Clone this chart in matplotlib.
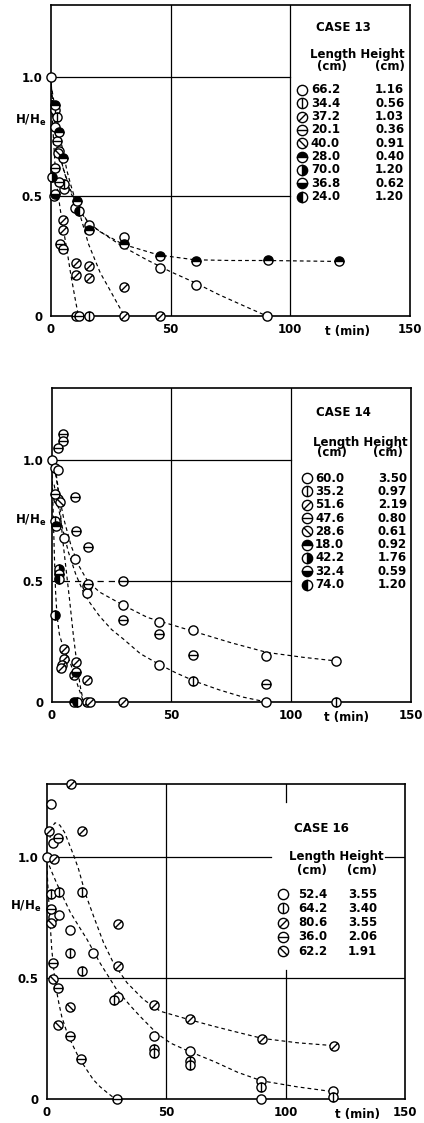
import matplotlib
matplotlib.use("Agg")
import matplotlib.pyplot as plt
from matplotlib.path import Path
import numpy as np

# ---------------- data ----------------
# CASE 13
c13_len = ["66.2", "34.4", "37.2", "20.1", "40.0", "28.0", "70.0", "36.8", "24.0"]
c13_hgt = ["1.16", "0.56", "1.03", "0.36", "0.91", "0.40", "1.20", "0.62", "1.20"]
c13_open_t = [0, 1.7, 3.2, 5.5, 10.1, 15.7, 30.7, 45.5, 60.5, 90.2]
c13_open_h = [1.0, 0.79, 0.69, 0.53, 0.45, 0.38, 0.33, 0.20, 0.13, 0.0]
c13_vl_t = [1.7, 2.4, 5.5, 15.7]
c13_vl_h = [0.86, 0.83, 0.55, 0.0]
c13_sl_t = [5.2, 5.2, 10.5, 10.5, 15.7, 15.7, 30.7, 30.7, 45.5]
c13_sl_h = [0.40, 0.36, 0.22, 0.17, 0.21, 0.16, 0.12, 0.0, 0.0]
c13_hl_t = [2.4, 1.5, 3.5, 3.8, 5.2, 10.5, 11.9]
c13_hl_h = [0.73, 0.62, 0.56, 0.30, 0.28, 0.0, 0.0]
c13_bs_t = [1.2, 3.0]
c13_bs_h = [0.50, 0.68]
c13_top_t = [1.7, 3.5, 5.2, 10.8, 15.7, 30.7, 45.5, 60.5, 90.6, 120.4]
c13_top_h = [0.88, 0.77, 0.66, 0.48, 0.36, 0.30, 0.25, 0.23, 0.234, 0.23]
c13_rt_t = [0.3]
c13_rt_h = [0.58]
c13_bt_t = [1.7]
c13_bt_h = [0.51]
c13_lf_t = [11.5]
c13_lf_h = [0.44]
# fitted dashed curves
c13_cA_t = [0, 1, 2.5, 5, 8, 11, 15, 20, 30, 45, 60, 75, 90, 105, 120.4]
c13_cA_h = [0.96, 0.86, 0.74, 0.62, 0.52, 0.46, 0.40, 0.355, 0.30, 0.255, 0.235, 0.232, 0.232, 0.23, 0.228]
c13_cB_t = [0, 1, 2.5, 5, 8, 12, 16, 21, 30, 40, 50, 60, 70, 80, 90.2]
c13_cB_h = [0.98, 0.86, 0.74, 0.62, 0.53, 0.44, 0.385, 0.35, 0.29, 0.235, 0.185, 0.14, 0.09, 0.045, 0.0]
c13_cC_t = [0, 1.5, 3, 4.8, 6.6, 8.2, 10, 12.2, 15.7, 20.6, 24, 27.3, 30.7]
c13_cC_h = [0.97, 0.88, 0.78, 0.70, 0.61, 0.55, 0.49, 0.42, 0.30, 0.18, 0.12, 0.06, 0.0]
c13_cD_t = [0, 0.8, 1.7, 2.7, 3.8, 5.2, 6.6, 8.0, 9.4, 10.5, 11.5]
c13_cD_h = [0.96, 0.78, 0.63, 0.53, 0.45, 0.36, 0.28, 0.19, 0.11, 0.05, 0.0]

# CASE 14
c14_len = ["60.0", "35.2", "51.6", "47.6", "28.6", "18.0", "42.2", "32.4", "74.0"]
c14_hgt = ["3.50", "0.97", "2.19", "0.80", "0.61", "0.92", "1.76", "0.59", "1.20"]
c14_open_t = [0, 1.4, 2.8, 5.1, 9.7, 14.8, 14.8, 29.6, 44.8, 44.8, 59, 89.6, 89.6, 118.7]
c14_open_h = [1.0, 0.97, 0.96, 0.68, 0.59, 0.48, 0.45, 0.40, 0.33, 0.155, 0.30, 0.19, 0.0, 0.17]
c14_vl_t = [2.8, 1.4, 59, 118.7]
c14_vl_h = [0.84, 0.75, 0.085, 0.0]
c14_sl_t = [5.0, 5.0, 4.5, 3.8, 10.0, 9.5, 14.7, 14.6, 16.0, 29.6]
c14_sl_h = [0.22, 0.18, 0.155, 0.14, 0.165, 0.11, 0.09, 0.0, 0.0, 0.0]
c14_hl_t = [4.6, 4.6, 2.8, 1.4, 9.7, 10.0, 15.3, 15.0, 29.6, 29.6, 44.8, 59, 89.6]
c14_hl_h = [1.11, 1.08, 1.05, 0.86, 0.85, 0.71, 0.64, 0.49, 0.50, 0.34, 0.28, 0.195, 0.076]
c14_bs_t = [3.5]
c14_bs_h = [0.83]
c14_top_t = [1.6, 9.3]
c14_top_h = [0.73, 0.0]
c14_rt_t = [3.0, 1.3]
c14_rt_h = [0.55, 0.36]
c14_bt_t = [3.0, 10.0]
c14_bt_h = [0.53, 0.125]
c14_lf_t = [3.0, 10.6]
c14_lf_h = [0.51, 0.0]
c14_cA_t = [0, 1.5, 3, 5, 8, 11, 15, 20, 30, 40, 50, 60, 75, 90, 105, 118.7]
c14_cA_h = [1.0, 0.95, 0.86, 0.76, 0.65, 0.57, 0.50, 0.455, 0.40, 0.35, 0.32, 0.29, 0.245, 0.205, 0.185, 0.17]
c14_cB_t = [1, 2.5, 4.5, 7, 10, 13, 16, 20, 25, 30, 37, 45, 52, 60, 70, 80, 89.6]
c14_cB_h = [0.90, 0.82, 0.72, 0.62, 0.53, 0.46, 0.41, 0.355, 0.30, 0.26, 0.20, 0.155, 0.12, 0.085, 0.05, 0.02, 0.0]
c14_cC_t = [1.5, 2.5, 3.5, 4.5, 6, 7.5, 9, 10.5, 12, 13.3]
c14_cC_h = [0.97, 0.90, 0.80, 0.68, 0.55, 0.42, 0.28, 0.16, 0.06, 0.0]
c14_cD_t = [0, 0.4, 0.8, 1.2, 1.6, 2.2, 3.2, 5, 7.5, 9.5, 11.5, 13.3]
c14_cD_h = [0.97, 0.86, 0.72, 0.58, 0.46, 0.36, 0.28, 0.22, 0.17, 0.11, 0.05, 0.0]

# CASE 16
c16_len = ["52.4", "64.2", "80.6", "36.0", "62.2"]
c16_hgt = ["3.55", "3.40", "3.55", "2.06", "1.91"]
c16_open_t = [1.7, 2.8, 0, 2.8, 5.3, 9.6, 19.4, 29.8, 45.1, 60.2, 89.9, 89.9, 120]
c16_open_h = [1.216, 1.055, 1.0, 0.75, 0.76, 0.697, 0.603, 0.42, 0.262, 0.199, 0.073, 0.0, 0.032]
c16_vl_t = [1.7, 5.3, 14.7, 9.9, 14.7, 28, 45.1, 45.1, 60.2, 60.2, 89.9, 120]
c16_vl_h = [0.844, 0.855, 0.855, 0.603, 0.527, 0.41, 0.205, 0.19, 0.155, 0.14, 0.05, 0.01]
c16_sl_t = [10.1, 1.1, 14.7, 3.1, 29.8, 29.8, 45.1, 60.2, 90.3, 120.4]
c16_sl_h = [1.30, 1.106, 1.106, 0.99, 0.724, 0.55, 0.39, 0.33, 0.248, 0.22]
c16_hl_t = [4.9, 1.7, 2.5, 4.6, 9.9, 14.3, 29.4]
c16_hl_h = [1.078, 0.785, 0.562, 0.458, 0.262, 0.165, 0.0]
c16_bs_t = [1.7, 2.8, 4.6, 9.9]
c16_bs_h = [0.726, 0.496, 0.304, 0.38]
c16_cA_t = [1.0, 2.0, 3.5, 5.5, 7.5, 9.5, 11.5, 13.3, 16.1, 19.6, 23.8, 28, 33.6, 40.6, 47.6, 58.8, 70, 80, 90.3, 105, 120.4]
c16_cA_h = [1.05, 1.12, 1.14, 1.13, 1.10, 1.05, 1.00, 0.95, 0.85, 0.755, 0.645, 0.56, 0.48, 0.41, 0.362, 0.33, 0.30, 0.275, 0.25, 0.232, 0.22]
c16_cB_t = [0, 2, 4.2, 7, 9.9, 13, 16.8, 22.4, 29.4, 35, 39.2, 46.2, 52, 58.8, 70, 80, 90, 105, 120]
c16_cB_h = [0.99, 0.94, 0.89, 0.83, 0.77, 0.72, 0.66, 0.56, 0.45, 0.385, 0.34, 0.27, 0.23, 0.20, 0.155, 0.11, 0.075, 0.05, 0.03]
c16_cC_t = [0, 0.5, 1.1, 2.1, 3.5, 5, 6.3, 8.3, 10.5, 13.5, 16.8, 19.5, 22.4, 25.5, 28.7]
c16_cC_h = [0.97, 0.88, 0.78, 0.62, 0.48, 0.40, 0.34, 0.28, 0.23, 0.17, 0.12, 0.08, 0.05, 0.025, 0.0]

# ---------------- markers ----------------
circ = Path.unit_circle()
def circ_line(p0, p1):
    seg = Path([p0, p1], [Path.MOVETO, Path.LINETO])
    return Path.make_compound_path(circ, seg)

d = 0.7071
M_VL = circ_line((0, -1), (0, 1))
M_SL = circ_line((-d, -d), (d, d))
M_HL = circ_line((-1, 0), (1, 0))
M_BS = circ_line((-d, d), (d, -d))

STYLES = {
    "open": dict(marker="o", mfc="white", mec="black"),
    "vl": dict(marker=M_VL, mfc="white", mec="black"),
    "sl": dict(marker=M_SL, mfc="white", mec="black"),
    "hl": dict(marker=M_HL, mfc="white", mec="black"),
    "bs": dict(marker=M_BS, mfc="white", mec="black"),
    "top": dict(marker="o", fillstyle="top", mfc="black", mfcalt="white", mec="black"),
    "rt": dict(marker="o", fillstyle="right", mfc="black", mfcalt="white", mec="black"),
    "bt": dict(marker="o", fillstyle="bottom", mfc="black", mfcalt="white", mec="black"),
    "lf": dict(marker="o", fillstyle="left", mfc="black", mfcalt="white", mec="black"),
}
ORDER9 = ["open", "vl", "sl", "hl", "bs", "top", "rt", "bt", "lf"]

FONT = dict(family="DejaVu Sans", fontsize=8.5, fontweight="bold")


def mk(ax, t, h, key, ms=6.6, z=5):
    st = dict(STYLES[key])
    mfcalt = st.pop("mfcalt", None)
    line, = ax.plot(t, h, ls="none", ms=ms, mew=1.0, clip_on=False, zorder=z, **st)
    if mfcalt is not None:
        line.set_markerfacecoloralt(mfcalt)
    return line


def curve(ax, t, h):
    ax.plot(t, h, ls=(0, (3.2, 2.6)), color="black", lw=0.85, zorder=3)


def base_axes(fig, rect, xlab_t):
    ax = fig.add_axes(rect)
    ax.set_xlim(0, 150)
    ax.set_ylim(0, 1.3)
    for s in ax.spines.values():
        s.set_linewidth(1.2)
    ax.set_xticks([0, 50, 100, 150])
    ax.set_xticklabels(["0", "50", "100", "150"], **FONT)
    ax.set_yticks([0, 0.5, 1.0])
    ax.set_yticklabels(["0", "0.5", "1.0"], **FONT)
    ax.tick_params(axis="both", length=0, pad=5)
    ax.tick_params(axis="y", pad=6)
    ax.text(xlab_t, -0.065, "t (min)", ha="center", va="center", clip_on=False, **FONT)
    return ax


def grid_v(ax, t, y0=0, y1=1.3, ls="-"):
    ax.plot([t, t], [y0, y1], color="black", lw=0.9, ls=ls, zorder=1)


def grid_h(ax, h, x0=0, x1=150, ls="-"):
    ax.plot([x0, x1], [h, h], color="black", lw=0.9, ls=ls, zorder=1)


def legend(ax, title, title_xy, head_xy, cm1_xy, cm2_xy, mx, lx, hx, y0, dy, lens, hgts, keys):
    ax.text(*title_xy, title, ha="center", va="center", **FONT)
    ax.text(*head_xy, "Length Height", ha="center", va="center", **FONT)
    ax.text(*cm1_xy, "(cm)", ha="center", va="center", **FONT)
    ax.text(*cm2_xy, "(cm)", ha="center", va="center", **FONT)
    for i, (L, H, k) in enumerate(zip(lens, hgts, keys)):
        y = y0 - i * dy
        mk(ax, [mx], [y], k, ms=7.4, z=6)
        ax.text(lx, y, L, ha="left", va="center", **FONT)
        ax.text(hx, y, H, ha="left", va="center", **FONT)


W, H = 424, 1123
fig = plt.figure(figsize=(W / 100, H / 100), dpi=100)

def rect(l, r, t, b):
    return [l / W, 1 - b / H, (r - l) / W, (b - t) / H]

# ---- panel 1 : CASE 13 ----
ax1 = base_axes(fig, rect(51, 410, 5, 316), 124)
grid_v(ax1, 50); grid_v(ax1, 100)
grid_h(ax1, 1.0, 0, 100); grid_h(ax1, 0.5, 0, 100)
for ct, ch in [(c13_cA_t, c13_cA_h), (c13_cB_t, c13_cB_h), (c13_cC_t, c13_cC_h), (c13_cD_t, c13_cD_h)]:
    curve(ax1, ct, ch)
series13 = [(c13_open_t, c13_open_h), (c13_vl_t, c13_vl_h), (c13_sl_t, c13_sl_h), (c13_hl_t, c13_hl_h),
            (c13_bs_t, c13_bs_h), (c13_top_t, c13_top_h), (c13_rt_t, c13_rt_h), (c13_bt_t, c13_bt_h),
            (c13_lf_t, c13_lf_h)]
for (st, sh), k in zip(series13, ORDER9):
    mk(ax1, st, sh, k)
legend(ax1, "CASE 13", (122, 1.208), (128, 1.091), (117.3, 1.041), (141.6, 1.041),
       104.9, 108.6, 135.4, 0.945, 0.0557, c13_len, c13_hgt, ORDER9)
ax1.text(-0.058, 0.63, "H/H$_\\mathbf{e}$", transform=ax1.transAxes, ha="center", va="center", **FONT)

# ---- panel 2 : CASE 14 ----
ax2 = base_axes(fig, rect(51.7, 411, 388, 702), 123)
grid_v(ax2, 50); grid_v(ax2, 100)
grid_h(ax2, 1.0, 0, 100)
grid_h(ax2, 0.5, 0, 30, ls=(0, (5, 4)))
grid_h(ax2, 0.5, 30, 100)
for ct, ch in [(c14_cA_t, c14_cA_h), (c14_cB_t, c14_cB_h), (c14_cC_t, c14_cC_h), (c14_cD_t, c14_cD_h)]:
    curve(ax2, ct, ch)
series14 = [(c14_open_t, c14_open_h), (c14_vl_t, c14_vl_h), (c14_sl_t, c14_sl_h), (c14_hl_t, c14_hl_h),
            (c14_bs_t, c14_bs_h), (c14_top_t, c14_top_h), (c14_rt_t, c14_rt_h), (c14_bt_t, c14_bt_h),
            (c14_lf_t, c14_lf_h)]
for (st, sh), k in zip(series14, ORDER9):
    mk(ax2, st, sh, k)
legend(ax2, "CASE 14", (121.8, 1.197), (128.7, 1.076), (116.9, 1.031), (140.5, 1.031),
       106.6, 109.9, 136.2, 0.927, 0.0551, c14_len, c14_hgt, ORDER9)
ax2.text(-0.06, 0.578, "H/H$_\\mathbf{e}$", transform=ax2.transAxes, ha="center", va="center", **FONT)

# ---- panel 3 : CASE 16 ----
ax3 = base_axes(fig, rect(46.7, 405, 784, 1099), 130)
grid_v(ax3, 50)
grid_v(ax3, 100, 1.226, 1.3); grid_v(ax3, 100, 0, 0.532)
grid_h(ax3, 1.0, 0, 94); grid_h(ax3, 1.0, 141.6, 150)
grid_h(ax3, 0.5, 0, 150)
for ct, ch in [(c16_cA_t, c16_cA_h), (c16_cB_t, c16_cB_h), (c16_cC_t, c16_cC_h)]:
    curve(ax3, ct, ch)
keys16 = ["open", "vl", "sl", "hl", "bs"]
series16 = [(c16_open_t, c16_open_h), (c16_vl_t, c16_vl_h), (c16_sl_t, c16_sl_h), (c16_hl_t, c16_hl_h),
            (c16_bs_t, c16_bs_h)]
for (st, sh), k in zip(series16, keys16):
    mk(ax3, st, sh, k)
legend(ax3, "CASE 16", (115.2, 1.118), (121.2, 0.999), (110.9, 0.941), (132.1, 0.941),
       98.9, 105.2, 126.1, 0.846, 0.059, c16_len, c16_hgt, keys16)
ax3.text(-0.06, 0.612, "H/H$_\\mathbf{e}$", transform=ax3.transAxes, ha="center", va="center", **FONT)

fig.savefig("out.png", dpi=100)
